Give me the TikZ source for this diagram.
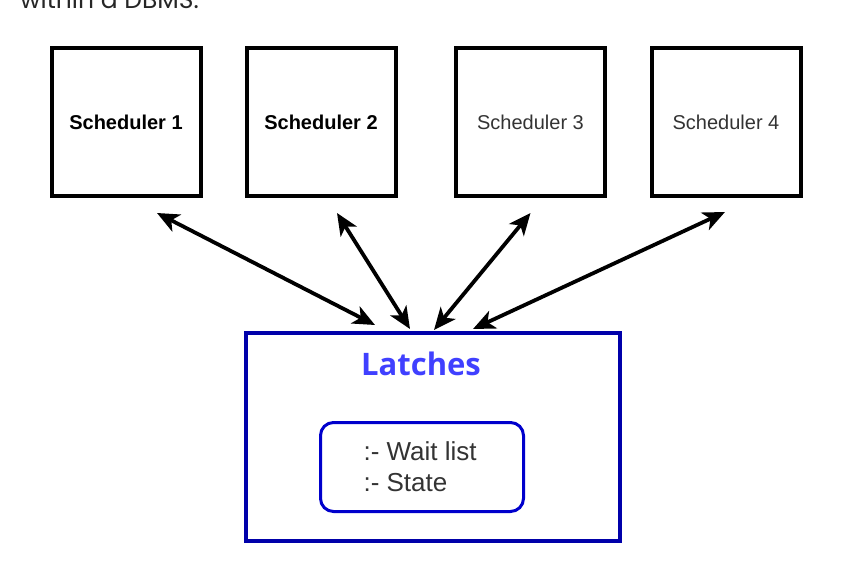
\documentclass[tikz,border=0pt]{standalone}
\usepackage{fontspec}
\setmainfont{Liberation Sans}
\newfontfamily\latchfont{Open Sans}
\newfontfamily\pagefont{Poppins}
\usetikzlibrary{arrows.meta}

\definecolor{latchblue}{RGB}{0,0,170}
\definecolor{innerblue}{RGB}{0,0,204}
\definecolor{titleblue}{RGB}{64,64,255}
\definecolor{textgray}{RGB}{51,51,51}

\begin{document}
\begin{tikzpicture}[x=1pt, y=-1pt,
                    sched/.style={draw, line width=4pt, minimum width=149pt, minimum height=148pt,
                                  font=\fontsize{20}{24}\selectfont},
                    link/.style={line width=3.8pt, >={Stealth[length=22pt,width=19pt,inset=6pt]}, <->}]
    \useasboundingbox (0,0) rectangle (855,586);
    % Cut-off page text
    \node[anchor=base west, inner sep=0pt, text=black!85, font=\pagefont\fontsize{25}{30}\selectfont] (pagetext) at (20,9) {within a DBMS.};
    % Schedulers
    \node[sched] (s1) at (126,122) {\bfseries Scheduler 1};
    \node[sched] (s2) at (321,122) {\bfseries Scheduler 2};
    \node[sched, text=textgray] (s3) at (530.5,122) {Scheduler 3};
    \node[sched, text=textgray] (s4) at (726,122) {Scheduler 4};
    % Latches box
    \node[draw=latchblue, line width=4pt, minimum width=374pt, minimum height=208pt] (lat) at (433,437) {};
    \node[text=titleblue, font=\latchfont\bfseries\fontsize{31}{36}\selectfont] (title) at (421,364) {Latches};
    \node[draw=innerblue, line width=3pt, rounded corners=13pt, minimum width=203pt, minimum height=89pt] (inner) at (422,467) {};
    \node[anchor=west, align=left, text=textgray, font=\fontsize{26}{31}\selectfont] (fields) at (360,467) {:- Wait list\\:- State};
    % Connectors
    \draw[link] ([xshift=31pt,yshift=-15pt]s1.south) -- ([xshift=-58pt,yshift=6pt]lat.north);
    \draw[link] ([xshift=16pt,yshift=-15pt]s2.south) -- ([xshift=-23pt,yshift=2pt]lat.north);
    \draw[link] ([yshift=-15pt]s3.south) -- ([xshift=1pt,yshift=1pt]lat.north);
    \draw[link] ([xshift=-1pt,yshift=-14pt]s4.south) -- ([xshift=40pt,yshift=2pt]lat.north);
\end{tikzpicture}
\end{document}
